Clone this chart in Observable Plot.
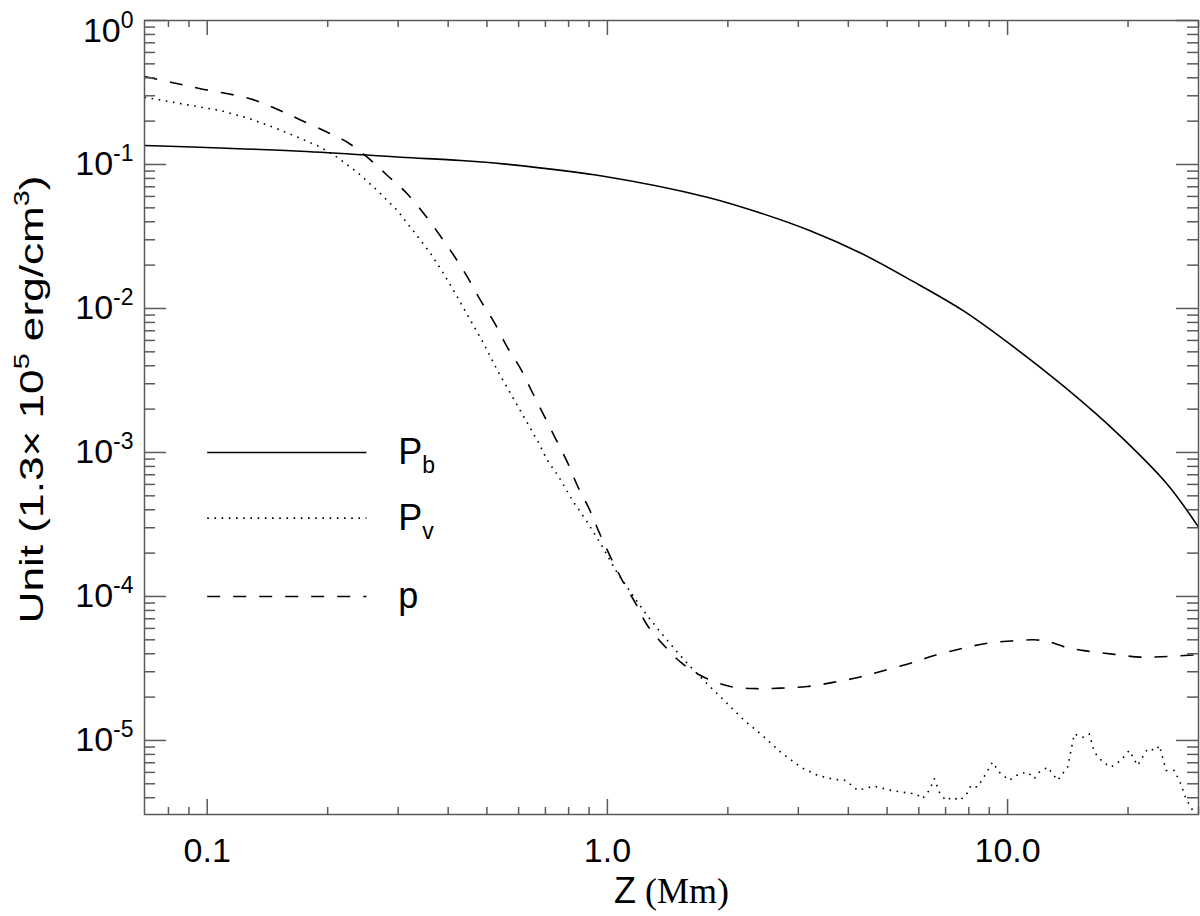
<!DOCTYPE html>
<html>
<head>
<meta charset="utf-8">
<script src="https://cdn.jsdelivr.net/npm/d3@7"></script>
<script src="https://cdn.jsdelivr.net/npm/@observablehq/plot@0.6"></script>
<style>
  html, body { margin: 0; padding: 0; background: #fff; }
  svg { display: block; }
</style>
</head>
<body>
<div id="chart"></div>
<script>
// ---------------- data ----------------
// P_b : magnetic pressure (solid)
const zPb = [0.0697, 0.171, 0.304, 0.430, 0.548, 0.986, 1.776, 2.38, 3.20, 4.29, 5.76, 7.73, 10.37, 13.9, 18.7, 25.0, 30.0];
const vPb = [0.1355, 0.1237, 0.1124, 0.1066, 0.101, 0.0826, 0.0593, 0.0466, 0.0348, 0.0243, 0.0156, 0.00969, 0.00539, 0.00284, 0.00138, 6.07e-4, 3.03e-4];

// P_v : (dotted)
const zPv = [0.0697, 0.0909, 0.108, 0.128, 0.1496, 0.168, 0.192, 0.211, 0.237, 0.266, 0.2985, 0.329, 0.362, 0.390, 0.422, 0.455, 0.491, 0.531, 0.573, 0.619, 0.675, 0.708, 0.757, 0.818, 0.891, 0.962, 1.049, 1.143, 1.247, 1.346, 1.482, 1.615, 1.812, 1.995, 2.196, 2.415, 2.71, 3.04, 3.35, 3.69, 3.94, 4.22, 4.64, 5.11, 5.62, 5.90, 6.13, 6.37, 6.56, 6.75, 7.01, 7.29, 7.57, 7.87, 8.10, 8.41, 8.83, 9.17, 9.53, 10.09, 10.69, 11.22, 11.66, 12.0, 12.59, 13.34, 14.13, 14.68, 15.4, 16.0, 16.47, 17.29, 18.13, 19.19, 20.14, 21.13, 22.39, 23.49, 23.95, 24.89, 26.1, 27.1, 27.9, 29.0, 30.0];
const vPv = [0.293, 0.257, 0.237, 0.2076, 0.177, 0.155, 0.132, 0.1124, 0.0885, 0.066, 0.048, 0.0339, 0.024, 0.0174, 0.01198, 0.00826, 0.00569, 0.00371, 0.00256, 0.00176, 0.00115, 8.8e-4, 6.74e-4, 4.64e-4, 3.28e-4, 2.32e-4, 1.52e-4, 1.07e-4, 7.59e-5, 5.81e-5, 4.22e-5, 3.23e-5, 2.34e-5, 1.80e-5, 1.38e-5, 1.11e-5, 8.30e-6, 6.53e-6, 5.72e-6, 5.36e-6, 5.28e-6, 4.50e-6, 4.82e-6, 4.50e-6, 4.32e-6, 4.26e-6, 3.94e-6, 4.50e-6, 5.42e-6, 4.38e-6, 3.83e-6, 4.04e-6, 3.83e-6, 4.15e-6, 4.87e-6, 4.74e-6, 5.87e-6, 7.07e-6, 6.02e-6, 5.28e-6, 5.87e-6, 6.02e-6, 5.42e-6, 6.02e-6, 6.53e-6, 5.28e-6, 6.53e-6, 1.11e-5, 1.05e-5, 1.11e-5, 8.30e-6, 7.07e-6, 6.53e-6, 7.26e-6, 8.53e-6, 6.70e-6, 8.75e-6, 8.53e-6, 9.23e-6, 6.19e-6, 6.19e-6, 5.00e-6, 3.94e-6, 3.27e-6, 2.87e-6];

// p : gas pressure (dashed)
const zP = [0.0697, 0.081, 0.0962, 0.128, 0.152, 0.171, 0.1995, 0.224, 0.251, 0.282, 0.316, 0.348, 0.379, 0.413, 0.447, 0.482, 0.521, 0.562, 0.607, 0.649, 0.694, 0.743, 0.794, 0.841, 0.900, 0.953, 1.019, 1.09, 1.178, 1.259, 1.385, 1.54, 1.744, 2.03, 2.35, 2.71, 3.16, 3.69, 4.26, 4.92, 5.84, 6.56, 7.64, 8.91, 10.19, 11.65, 12.59, 14.13, 15.85, 18.48, 21.5, 25.1, 30.0];
const vP = [0.409, 0.373, 0.336, 0.286, 0.237, 0.204, 0.1676, 0.1428, 0.1124, 0.0839, 0.0626, 0.0455, 0.033, 0.0234, 0.0165, 0.01137, 0.00803, 0.00539, 0.00381, 0.00262, 0.00181, 0.00124, 8.57e-4, 5.90e-4, 4.07e-4, 2.80e-4, 1.87e-4, 1.29e-4, 8.89e-5, 6.29e-5, 4.57e-5, 3.41e-5, 2.75e-5, 2.37e-5, 2.29e-5, 2.31e-5, 2.37e-5, 2.54e-5, 2.75e-5, 3.06e-5, 3.50e-5, 3.89e-5, 4.33e-5, 4.74e-5, 4.90e-5, 5.00e-5, 4.87e-5, 4.40e-5, 4.17e-5, 3.96e-5, 3.79e-5, 3.83e-5, 3.94e-5];

// ticks
const xMajor = [0.1, 1, 10];
const xMinor = [0.08, 0.09, 0.2, 0.3, 0.4, 0.5, 0.6, 0.7, 0.8, 0.9, 2, 3, 4, 5, 6, 7, 8, 9, 20, 30];
const yMajor = [1, 1e-1, 1e-2, 1e-3, 1e-4, 1e-5];
const yMinor = [
  9e-1, 8e-1, 7e-1, 6e-1, 5e-1, 4e-1, 3e-1, 2e-1,
  9e-2, 8e-2, 7e-2, 6e-2, 5e-2, 4e-2, 3e-2, 2e-2,
  9e-3, 8e-3, 7e-3, 6e-3, 5e-3, 4e-3, 3e-3, 2e-3,
  9e-4, 8e-4, 7e-4, 6e-4, 5e-4, 4e-4, 3e-4, 2e-4,
  9e-5, 8e-5, 7e-5, 6e-5, 5e-5, 4e-5, 3e-5, 2e-5,
  9e-6, 8e-6, 7e-6, 6e-6, 5e-6, 4e-6
];

// legend (placed in data coordinates, as in the original figure)
const legendNames = ["P_b", "P_v", "p"];
const legendLevel = [1e-3, 3.5e-4, 1e-4];
const legendSpan = [0.1, 0.25];
const legendTextX = 0.3;

const xLabel = "Z (Mm)";
const yLabel = "Unit (1.3× 10^5 erg/cm^3)";

// ---------------- layout ----------------
const W = 1200, H = 916;
const mL = 144, mR = 2, mT = 20, mB = 102;
const plotW = W - mL - mR, plotH = H - mT - mB;
const frameColor = "#5a5a5a";
const dashes = {solid: null, dotted: "1.6,5.6", dashed: "13,13"};
const styles = ["solid", "dotted", "dashed"];

const rowsPb = zPb.map((z, i) => ({z, v: vPb[i]}));
const rowsPv = zPv.map((z, i) => ({z, v: vPv[i]}));
const rowsP  = zP.map((z, i) => ({z, v: vP[i]}));
const legendRows = legendNames.flatMap((name, i) => legendSpan.map(x => ({name, x, y: legendLevel[i], s: styles[i]})));
const legendLabelRows = legendNames.map((name, i) => ({name, x: legendTextX, y: legendLevel[i]}));

const lineStyle = {stroke: "black", strokeWidth: 1.6, strokeLinecap: "butt"};

const chart = Plot.plot({
  width: W, height: H,
  marginLeft: mL, marginRight: mR, marginTop: mT, marginBottom: mB,
  style: {fontFamily: "'Liberation Sans', Arial, Helvetica, sans-serif", background: "#fff", color: "#000", overflow: "visible"},
  x: {type: "log", domain: [0.0697, 30]},
  y: {type: "log", domain: [3.06e-6, 1]},
  marks: [
    // curves
    Plot.line(rowsPb, {x: "z", y: "v", ...lineStyle, curve: "catmull-rom", clip: true}),
    Plot.line(rowsPv, {x: "z", y: "v", ...lineStyle, strokeDasharray: dashes.dotted, clip: true}),
    Plot.line(rowsP,  {x: "z", y: "v", ...lineStyle, strokeDasharray: dashes.dashed, curve: "catmull-rom", clip: true}),
    // legend samples
    ...styles.map((s, i) => Plot.line(legendRows.filter(d => d.s === s), {x: "x", y: "y", ...lineStyle, strokeDasharray: dashes[s]})),
    Plot.text(legendLabelRows, {x: "x", y: "y", text: d => d.name, textAnchor: "start", lineAnchor: "middle", fontSize: 36, fill: "black"}),
    // frame and ticks (IDL-style box)
    Plot.frame({stroke: frameColor, strokeWidth: 1.5}),
    Plot.tickX(xMajor, {x: d => d, insetTop: plotH - 15, stroke: frameColor, strokeWidth: 1.5}),
    Plot.tickX(xMajor, {x: d => d, insetBottom: plotH - 15, stroke: frameColor, strokeWidth: 1.5}),
    Plot.tickX(xMinor, {x: d => d, insetTop: plotH - 7, stroke: frameColor, strokeWidth: 1.5}),
    Plot.tickX(xMinor, {x: d => d, insetBottom: plotH - 7, stroke: frameColor, strokeWidth: 1.5}),
    Plot.tickY(yMajor, {y: d => d, insetRight: plotW - 22, stroke: frameColor, strokeWidth: 1.5}),
    Plot.tickY(yMajor, {y: d => d, insetLeft: plotW - 22, stroke: frameColor, strokeWidth: 1.5}),
    Plot.tickY(yMinor, {y: d => d, insetRight: plotW - 11, stroke: frameColor, strokeWidth: 1.5}),
    Plot.tickY(yMinor, {y: d => d, insetLeft: plotW - 11, stroke: frameColor, strokeWidth: 1.5}),
    // tick labels
    Plot.axisX({ticks: xMajor, tickSize: 0, tickPadding: 23, tickFormat: d => d.toFixed(1), fontSize: 34, label: null}),
    Plot.axisY({ticks: yMajor, tickSize: 0, tickPadding: 11, tickFormat: d => "10^" + Math.round(Math.log10(d)), fontSize: 34, label: null}),
    // axis titles
    Plot.text([xLabel], {frameAnchor: "bottom", dy: 88, lineAnchor: "bottom", textAnchor: "middle", fontSize: 36, fill: "black"}),
    Plot.text([yLabel], {frameAnchor: "left", dx: -112, dy: -18, rotate: -90, lineAnchor: "middle", textAnchor: "middle", fontSize: 34, fill: "black"})
  ]
});

document.getElementById("chart").appendChild(chart);

// ---------------- rich text (super/subscripts, mixed fonts) ----------------
const svgNS = "http://www.w3.org/2000/svg";
function rich(textEl, parts, base = 0) {
  textEl.textContent = "";
  let cur = 0;
  for (const p of parts) {
    const ts = document.createElementNS(svgNS, "tspan");
    ts.textContent = p.t;
    const target = base + (p.shift || 0);
    const d = target - cur;
    if (d) ts.setAttribute("dy", d);
    cur = target;
    if (p.size) ts.setAttribute("font-size", p.size);
    if (p.family) ts.setAttribute("font-family", p.family);
    textEl.appendChild(ts);
  }
}
function parseScripts(str, supSize, supShift, subSize, subShift) {
  // "a^b" -> superscript, "a_b" -> subscript (single token after marker)
  const parts = [];
  const re = /([\^_])([^\s)]+)/g;
  let last = 0, m;
  while ((m = re.exec(str))) {
    if (m.index > last) parts.push({t: str.slice(last, m.index)});
    if (m[1] === "^") parts.push({t: m[2], size: supSize, shift: supShift});
    else parts.push({t: m[2], size: subSize, shift: subShift});
    last = re.lastIndex;
  }
  if (last < str.length) parts.push({t: str.slice(last)});
  return parts;
}

const root = d3.select(chart);
root.selectAll('g[aria-label="y-axis tick label"] text').each(function () {
  const s = this.textContent;
  rich(this, parseScripts(s, 23, -14), s === "10^0" ? 11 : 0);
});
root.selectAll("text").each(function () {
  const s = this.textContent;
  if (legendNames.includes(s)) {
    rich(this, parseScripts(s, 0, 0, 23, 9));
  } else if (s === yLabel) {
    rich(this, parseScripts(s, 22, -14));
    this.setAttribute("textLength", 448);
    this.setAttribute("lengthAdjust", "spacingAndGlyphs");
  } else if (s === xLabel) {
    rich(this, [{t: "Z"}, {t: " (Mm)", family: "'Liberation Serif', 'Times New Roman', serif"}]);
  }
});
</script>
</body>
</html>
